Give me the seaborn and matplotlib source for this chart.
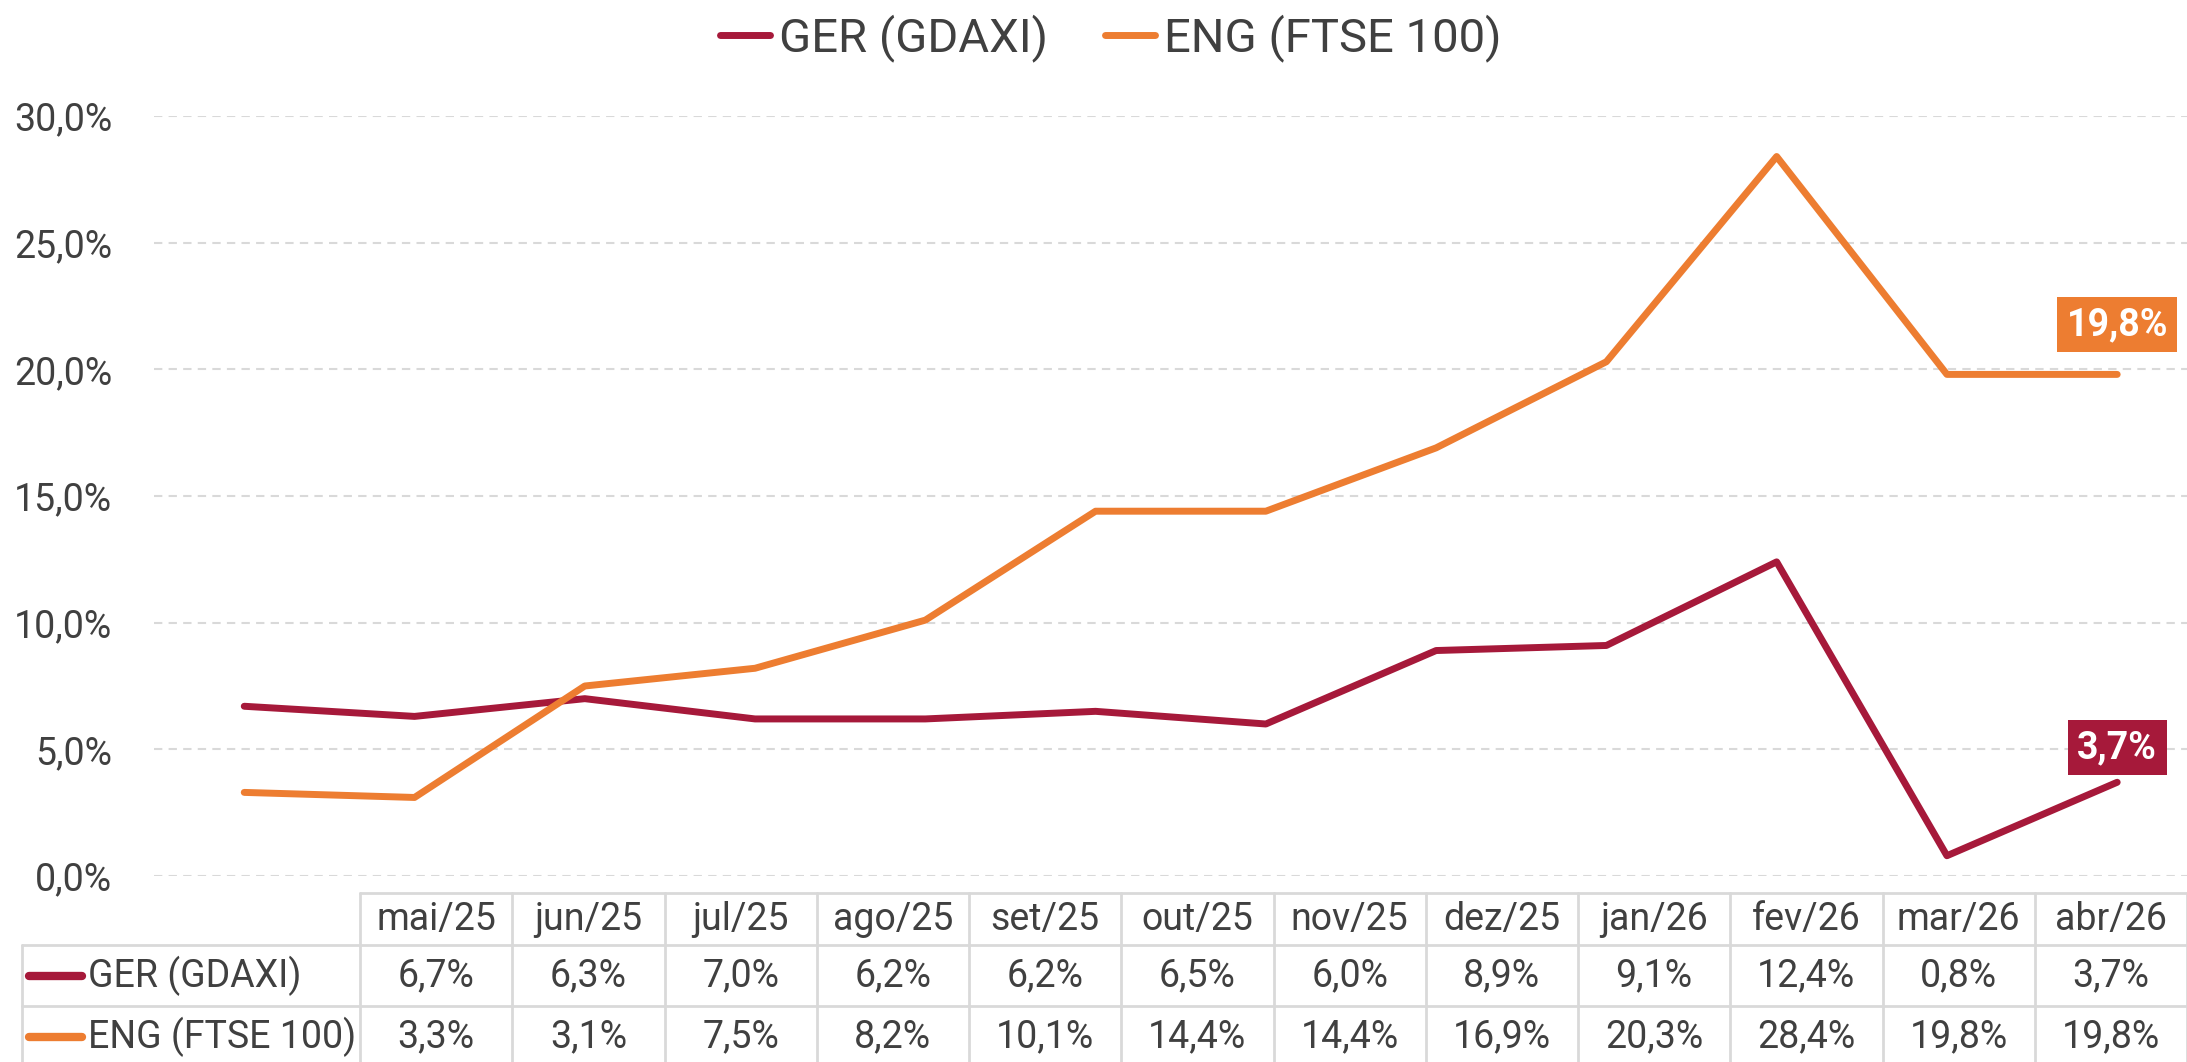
import matplotlib
matplotlib.use('Agg')
import matplotlib.pyplot as plt
from matplotlib.lines import Line2D
from matplotlib import font_manager
import seaborn as sns
import pandas as pd
import numpy as np

# dados
months = ['mai/25', 'jun/25', 'jul/25', 'ago/25', 'set/25', 'out/25',
          'nov/25', 'dez/25', 'jan/26', 'fev/26', 'mar/26', 'abr/26']
ger = [6.7, 6.3, 7.0, 6.2, 6.2, 6.5, 6.0, 8.9, 9.1, 12.4, 0.8, 3.7]
eng = [3.3, 3.1, 7.5, 8.2, 10.1, 14.4, 14.4, 16.9, 20.3, 28.4, 19.8, 19.8]
series_names = ['GER (GDAXI)', 'ENG (FTSE 100)']
colors = ['#A6193A', '#ED7D31']
y_ticks = [0, 5, 10, 15, 20, 25, 30]


def pct(v):
    return f'{v:.1f}%'.replace('.', ',')


sns.set_theme(style='white')
available = {f.name for f in font_manager.fontManager.ttflist}
base_font = 'Liberation Sans Narrow' if 'Liberation Sans Narrow' in available else 'Roboto'
plt.rcParams['font.family'] = [base_font, 'DejaVu Sans']
text_color = '#404040'
grid_color = '#D9D9D9'

W, H = 2187, 1062
fig = plt.figure(figsize=(W / 100, H / 100), dpi=100)

df = pd.DataFrame({
    'x': list(range(len(months))) * 2,
    'valor': ger + eng,
    'serie': [series_names[0]] * len(ger) + [series_names[1]] * len(eng),
})

# área do gráfico
ax = fig.add_axes([154 / W, (H - 876) / H, 1 - 154 / W, (876 - 116) / H])
sns.lineplot(data=df, x='x', y='valor', hue='serie', palette=colors,
             linewidth=5, ax=ax, legend=False, sort=False)
for line in ax.lines:
    line.set_solid_capstyle('round')
    line.set_solid_joinstyle('round')

ax.set_xlim(-0.53, 11.41)
ax.set_ylim(0, 30)
ax.set_yticks(y_ticks)
ax.set_yticklabels([pct(t) for t in y_ticks], fontsize=27, color=text_color)
ax.tick_params(axis='y', length=0, pad=30)
ax.set_xticks([])
ax.set_xlabel('')
ax.set_ylabel('')
ax.grid(axis='y', color=grid_color, linestyle=(0, (4, 3)), linewidth=1.5)
ax.set_axisbelow(True)
for s in ax.spines.values():
    s.set_visible(False)

# rótulos do último ponto
last = len(months) - 1
for vals, c, off in [(eng, colors[1], 36), (ger, colors[0], 25)]:
    ax.annotate(pct(vals[last]), (last, vals[last]), xytext=(0, off),
                textcoords='offset points', ha='center', va='center',
                fontsize=27, fontweight='bold', color='white',
                bbox=dict(boxstyle='square,pad=0.25', fc=c, ec='none'))

# legenda
handles = [Line2D([0], [0], color=c, lw=5, solid_capstyle='round') for c in colors]
fig.legend(handles, series_names, loc='center', bbox_to_anchor=(0.508, 0.964),
           ncol=2, frameon=False, fontsize=34, handlelength=1.05,
           handletextpad=0.2, columnspacing=1.2, labelcolor=text_color)

# tabela de dados
tab = fig.add_axes([0, 0, 1, 1])
tab.set_xlim(0, W)
tab.set_ylim(H, 0)
tab.axis('off')
tab.patch.set_alpha(0)

label_left = 22
col_left = 360
col_w = (W - col_left) / len(months)
rows = [893, 945, 1006, 1067]

tab.plot([col_left, W], [rows[0], rows[0]], color=grid_color, lw=2)
for r in rows[1:]:
    tab.plot([label_left, W], [r, r], color=grid_color, lw=2)
tab.plot([label_left, label_left], [rows[1], rows[-1]], color=grid_color, lw=2)
for i in range(len(months) + 1):
    xx = col_left + i * col_w
    tab.plot([xx, xx], [rows[0], rows[-1]], color=grid_color, lw=2)

for i, m in enumerate(months):
    cx = col_left + (i + 0.5) * col_w
    tab.text(cx, (rows[0] + rows[1]) / 2, m, ha='center', va='center',
             fontsize=27, color=text_color)
    tab.text(cx, (rows[1] + rows[2]) / 2, pct(ger[i]), ha='center', va='center',
             fontsize=27, color=text_color)
    tab.text(cx, (rows[2] + rows[3]) / 2, pct(eng[i]), ha='center', va='center',
             fontsize=27, color=text_color)

for k, (name, c) in enumerate(zip(series_names, colors)):
    cy = (rows[k + 1] + rows[k + 2]) / 2
    tab.plot([29, 82], [cy, cy], color=c, lw=6, solid_capstyle='round')
    tab.text(88, cy, name, ha='left', va='center', fontsize=27, color=text_color)

fig.savefig('out.png', dpi=100)
